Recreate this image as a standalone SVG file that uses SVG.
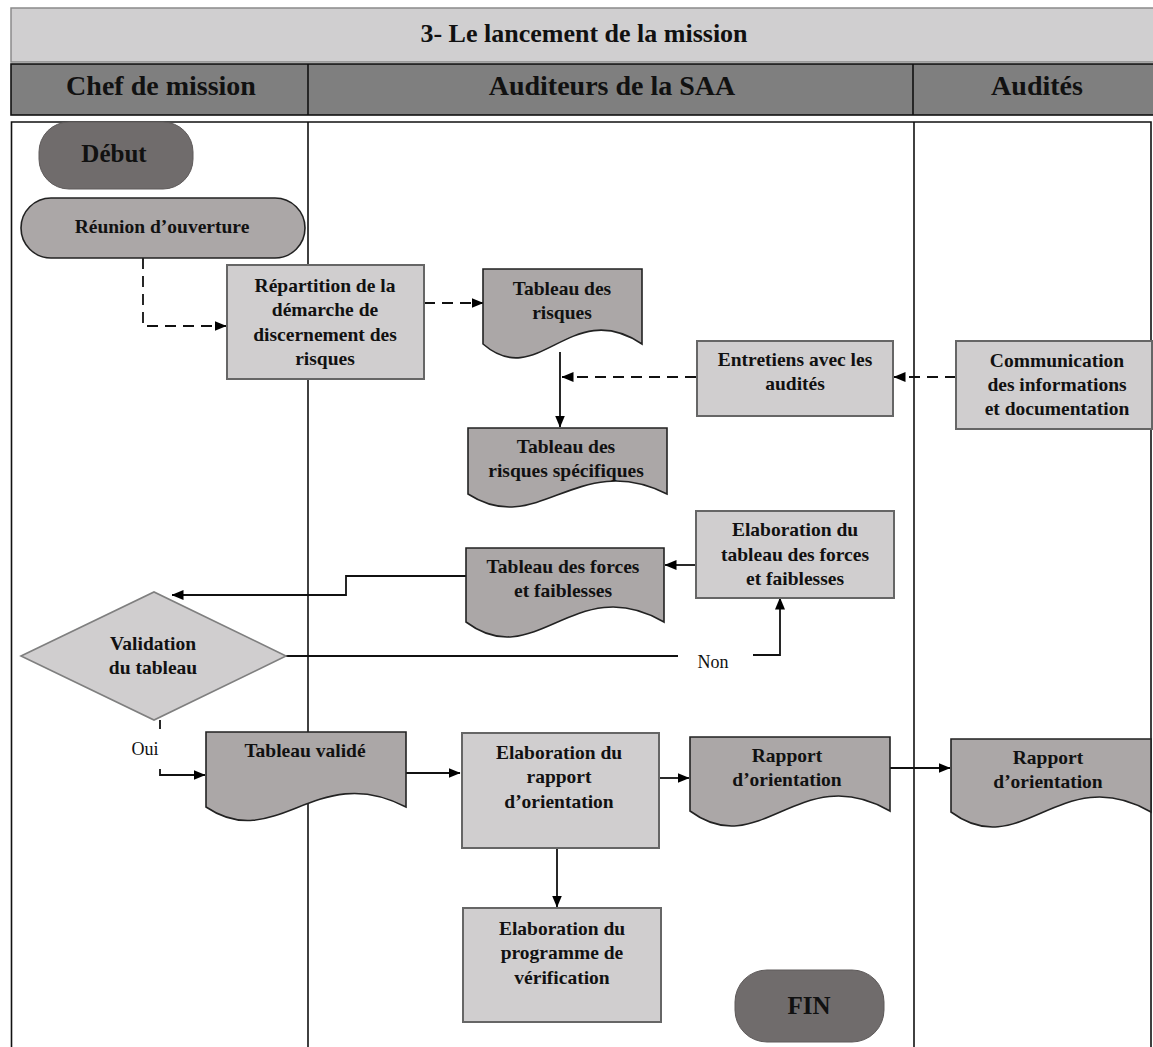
<svg xmlns="http://www.w3.org/2000/svg" width="1153" height="1047" viewBox="0 0 1153 1047">
  <defs>
    <marker id="ah" markerWidth="12" markerHeight="10" refX="11.5" refY="5" orient="auto" markerUnits="userSpaceOnUse">
      <path d="M0,0 L12,5 L0,10 Z" fill="#000"/>
    </marker>
    <style>
      text { fill: #111; text-anchor: middle; }
      .ttl { font-size: 26px; font-weight: bold; }
      .hdr { font-size: 28px; font-weight: bold; }
      .t { font-size: 19.5px; font-weight: bold; }
      .big { font-size: 25px; font-weight: bold; }
      .lbl { font-size: 18px; font-weight: normal; }
      .box { fill: #d0cecf; stroke: #666; stroke-width: 2; }
      .doc { fill: #aba7a7; stroke: #222; stroke-width: 1.6; }
      .term { fill: #706c6c; stroke: #5e5a5a; stroke-width: 1; }
      .lane { stroke: #111; stroke-width: 1.6; fill: none; }
      .ln { stroke: #111; stroke-width: 1.8; fill: none; }
      .dash { stroke: #111; stroke-width: 1.8; fill: none; stroke-dasharray: 11 7; }
    </style>
  </defs>

  <rect width="1153" height="1047" fill="#fff"/>

  <g font-family="Liberation Serif, Times New Roman, serif">
  <!-- Title and lane headers -->
  <g id="title">
    <rect x="11" y="8" width="1150" height="54" fill="#d0cfd0" stroke="#8a8a8a" stroke-width="1.5"/>
    <text class="ttl" x="584" y="42">3- Le lancement de la mission</text>
  </g>
  <g id="lane-headers">
    <rect x="11" y="64" width="1150" height="51" fill="#7f7f7f" stroke="#111" stroke-width="1.6"/>
    <line class="lane" x1="308" y1="64" x2="308" y2="115"/>
    <line class="lane" x1="913" y1="64" x2="913" y2="115"/>
    <text class="hdr" x="161" y="95">Chef de mission</text>
    <text class="hdr" x="612" y="95">Auditeurs de la SAA</text>
    <text class="hdr" x="1037" y="95">Audités</text>
  </g>

  <!-- Swimlane body -->
  <g id="lanes">
    <path class="lane" d="M11.5,1050 V122 H1151 V1050"/>
    <line class="lane" x1="308" y1="122" x2="308" y2="1050"/>
    <line class="lane" x1="914" y1="122" x2="914" y2="1050"/>
  </g>

  <!-- Connectors -->
  <g id="connectors">
    <path class="dash" d="M143,258 V326 H226" marker-end="url(#ah)"/>
    <path class="dash" d="M424,303 H483" marker-end="url(#ah)"/>
    <path class="ln" d="M560,352 V427" marker-end="url(#ah)"/>
    <path class="dash" d="M696,377 H562" marker-end="url(#ah)"/>
    <path class="dash" d="M956,377 H894" marker-end="url(#ah)"/>
    <path class="ln" d="M696,565 H665" marker-end="url(#ah)"/>
    <path class="ln" d="M466,576 H346 V595 H172" marker-end="url(#ah)"/>
    <path class="ln" d="M286,656 H678"/>
    <path class="ln" d="M753,655 H780 V598" marker-end="url(#ah)"/>
    <path class="ln" d="M160,720 V729"/>
    <path class="ln" d="M160,769 V775 H205" marker-end="url(#ah)"/>
    <path class="ln" d="M406,773 H460" marker-end="url(#ah)"/>
    <path class="ln" d="M659,778 H689" marker-end="url(#ah)"/>
    <path class="ln" d="M890,768 H950" marker-end="url(#ah)"/>
    <path class="ln" d="M557,848 V907" marker-end="url(#ah)"/>
    <text class="lbl" x="713" y="668">Non</text>
    <text class="lbl" x="145" y="755">Oui</text>
  </g>

  <!-- Nodes -->
  <g id="debut">
    <rect class="term" x="39" y="122" width="154" height="67" rx="30" ry="30"/>
    <text class="big" x="114" y="162">Début</text>
  </g>

  <g id="reunion">
    <rect x="21" y="198" width="284" height="60" rx="30" ry="30" fill="#aba7a7" stroke="#222" stroke-width="1.6"/>
    <text class="t" x="162" y="233">Réunion d’ouverture</text>
  </g>

  <g id="repartition">
    <rect class="box" x="227" y="265" width="197" height="114"/>
    <text class="t" x="325" y="292">Répartition de la</text>
    <text class="t" x="325" y="316">démarche de</text>
    <text class="t" x="325" y="341">discernement des</text>
    <text class="t" x="325" y="365">risques</text>
  </g>

  <g id="tableau-risques">
    <path class="doc" d="M483,269 H642 V344 C570.5,296 538.6,392 483,344 Z"/>
    <text class="t" x="562" y="295">Tableau des</text>
    <text class="t" x="562" y="319">risques</text>
  </g>

  <g id="entretiens">
    <rect class="box" x="697" y="341" width="196" height="75"/>
    <text class="t" x="795" y="366">Entretiens avec les</text>
    <text class="t" x="795" y="390">audités</text>
  </g>

  <g id="communication">
    <rect class="box" x="956" y="341" width="196" height="88"/>
    <text class="t" x="1057" y="367">Communication</text>
    <text class="t" x="1057" y="391">des informations</text>
    <text class="t" x="1057" y="415">et documentation</text>
  </g>

  <g id="tableau-specifiques">
    <path class="doc" d="M468,428 H667 V494 C577.5,449 537.7,539 468,494 Z"/>
    <text class="t" x="566" y="453">Tableau des</text>
    <text class="t" x="566" y="477">risques spécifiques</text>
  </g>

  <g id="elaboration-tableau">
    <rect class="box" x="696" y="511" width="198" height="87"/>
    <text class="t" x="795" y="536">Elaboration du</text>
    <text class="t" x="795" y="561">tableau des forces</text>
    <text class="t" x="795" y="585">et faiblesses</text>
  </g>

  <g id="tableau-forces">
    <path class="doc" d="M466,548 H664 V622 C574.9,570 535.3,674 466,622 Z"/>
    <text class="t" x="563" y="573">Tableau des forces</text>
    <text class="t" x="563" y="597">et faiblesses</text>
  </g>

  <g id="validation">
    <path d="M21,656 L154,592 L286,656 L154,720 Z" fill="#d0cecf" stroke="#7f7f7f" stroke-width="1.6"/>
    <text class="t" x="153" y="650">Validation</text>
    <text class="t" x="153" y="674">du tableau</text>
  </g>

  <g id="tableau-valide">
    <path class="doc" d="M206,732 H406 V807 C316,760 276,854 206,807 Z"/>
    <text class="t" x="305" y="757">Tableau validé</text>
  </g>

  <g id="elaboration-rapport">
    <rect class="box" x="462" y="733" width="197" height="115"/>
    <text class="t" x="559" y="759">Elaboration du</text>
    <text class="t" x="559" y="783">rapport</text>
    <text class="t" x="559" y="808">d’orientation</text>
  </g>

  <g id="rapport-saa">
    <path class="doc" d="M690,737 H890 V811 C800,759 760,863 690,811 Z"/>
    <text class="t" x="787" y="762">Rapport</text>
    <text class="t" x="787" y="786">d’orientation</text>
  </g>

  <g id="rapport-audites">
    <path class="doc" d="M951,739 H1151 V812 C1061,760 1021,864 951,812 Z"/>
    <text class="t" x="1048" y="764">Rapport</text>
    <text class="t" x="1048" y="788">d’orientation</text>
  </g>

  <g id="elaboration-programme">
    <rect class="box" x="463" y="908" width="198" height="114"/>
    <text class="t" x="562" y="935">Elaboration du</text>
    <text class="t" x="562" y="959">programme de</text>
    <text class="t" x="562" y="984">vérification</text>
  </g>

  <g id="fin">
    <rect class="term" x="735" y="970" width="149" height="72" rx="32" ry="32"/>
    <text class="big" x="809" y="1014">FIN</text>
  </g>
  </g>
</svg>
